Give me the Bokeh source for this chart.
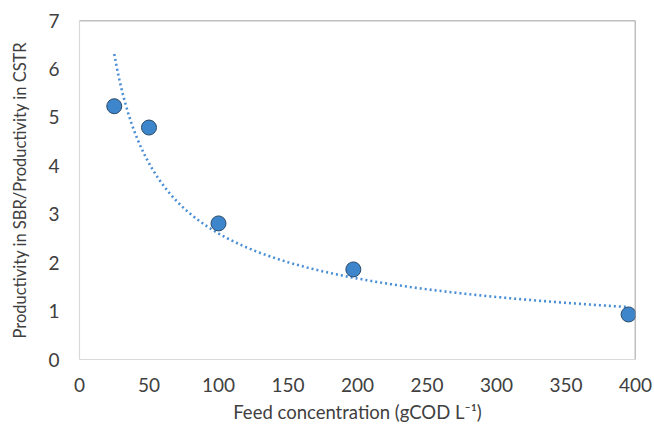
import numpy as np
from bokeh.plotting import figure
from bokeh.models import Range1d, FixedTicker, Span
from bokeh.embed import file_html
from bokeh.resources import INLINE

# Feed concentration (gCOD/L) and SBR/CSTR productivity ratio
feed = [25, 50, 100, 197, 395]
ratio = [5.23, 4.79, 2.81, 1.86, 0.93]

x_ticks = [0, 50, 100, 150, 200, 250, 300, 350, 400]
y_ticks = [0, 1, 2, 3, 4, 5, 6, 7]

# Power-law trend line y = a * x^b, least squares in log space
b, ln_a = np.polyfit(np.log(feed), np.log(ratio), 1)
xs = np.linspace(min(feed), max(feed), 300)
ys = np.exp(ln_a) * xs ** b

FONT = "Lato"

p = figure(width=654, height=426, output_backend="svg", toolbar_location=None,
           x_range=Range1d(0, 400), y_range=Range1d(0, 7),
           min_border_left=79, min_border_right=19, min_border_top=20, min_border_bottom=67)
p.outline_line_color = None
p.xgrid.visible = False
p.ygrid.visible = False

p.line(xs, ys, line_color="#4a8fd6", line_width=2.6, line_dash="2 3")
p.scatter(feed, ratio, size=15, fill_color="#3d86cb", line_color="#2a4a6a", line_width=1)

# darker top and right frame edges
p.add_layout(Span(location=7, dimension="width", line_color="#808080", line_width=1.5))
p.add_layout(Span(location=400, dimension="height", line_color="#808080", line_width=1.5))

for ax in (p.xaxis, p.yaxis):
    ax.axis_line_color = "#d9d9d9"
    ax.axis_line_width = 1.2
    ax.major_tick_line_color = None
    ax.minor_tick_line_color = None
    ax.major_label_text_font = FONT
    ax.major_label_text_font_size = "19px"
    ax.major_label_text_color = "#404040"
    ax.axis_label_text_font = FONT
    ax.axis_label_text_font_style = "normal"
    ax.axis_label_text_color = "#404040"

p.xaxis.ticker = FixedTicker(ticks=x_ticks)
p.yaxis.ticker = FixedTicker(ticks=y_ticks)
p.xaxis.major_label_standoff = 12
p.yaxis.major_label_standoff = 14
p.xaxis.axis_label = "Feed concentration (gCOD L\u207b\u00b9)"
p.yaxis.axis_label = "Productivity in SBR/Productivity in CSTR"
p.xaxis.axis_label_text_font_size = "18.5px"
p.yaxis.axis_label_text_font_size = "16.5px"
p.xaxis.axis_label_standoff = 6
p.yaxis.axis_label_standoff = 15

open("out.html", "w").write(file_html(p, INLINE))
